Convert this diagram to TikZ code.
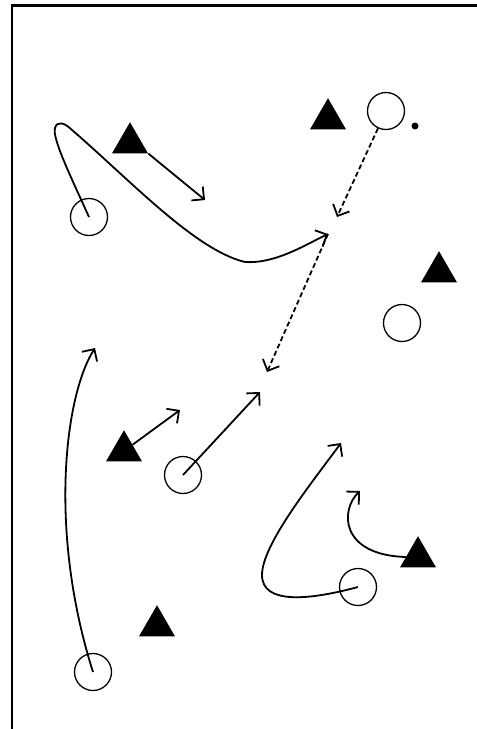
\documentclass[tikz,border=0pt]{standalone}
\usepackage{tikz}
\usetikzlibrary{shapes.geometric,arrows.meta}

\begin{document}
\begin{tikzpicture}[x=1pt,y=-1pt,
        atacante/.style={draw, circle, line width=1.3pt, minimum size=37pt, inner sep=0pt},
        defensor/.style={regular polygon, regular polygon sides=3, fill=black, minimum size=41.6pt, inner sep=0pt},
        bola/.style={circle, fill=black, minimum size=7pt, inner sep=0pt},
        corrida/.style={line width=1.8pt, -{Straight Barb[length=9pt,width=18pt]}},
        passe/.style={corrida, dash pattern=on 5pt off 3pt}]
        \useasboundingbox (0,0) rectangle (477,729);

        % Campo
        \draw[line width=2.6pt] (12,729) -- (12,5.3) -- (477,5.3);

        % Atacantes
        \node[atacante] (a1) at (89,217) {};
        \node[atacante] (a2) at (386,111) {};
        \node[atacante] (a3) at (402,323) {};
        \node[atacante] (a4) at (183,475) {};
        \node[atacante] (a5) at (358,587) {};
        \node[atacante] (a6) at (93,672) {};

        % Defensores
        \node[defensor] (d1) at (130,143) {};
        \node[defensor] (d2) at (328,119) {};
        \node[defensor] (d3) at (439,272) {};
        \node[defensor] (d4) at (124,451) {};
        \node[defensor] (d5) at (418,557) {};
        \node[defensor] (d6) at (157,626) {};

        % Bola
        \node[bola] (b) at (415,126) {};

        % Pontos de chegada
        \coordinate (c1) at (205,200);
        \coordinate (p1) at (328,234);
        \coordinate (p2) at (337,217);
        \coordinate (p3) at (267,372);
        \coordinate (c2) at (95,348);
        \coordinate (c3) at (180,410);
        \coordinate (c4) at (260,392);
        \coordinate (c5) at (341,443);
        \coordinate (c6) at (360,491);

        % Corridas
        \draw[corrida] (a1.center) .. controls (70,175) and (52,138) .. (55,128)
            .. controls (57,121) and (64,122) .. (72,130)
            .. controls (130,180) and (195,250) .. (245,262)
            .. controls (275,264) and (305,245) .. (p1);
        \draw[corrida] (d1.corner 3) -- (c1);
        \draw[corrida] (a6.center) .. controls (48,530) and (65,395) .. (c2);
        \draw[corrida] (d4) -- (c3);
        \draw[corrida] (a4.center) -- (c4);
        \draw[corrida] (a5.center) .. controls (310,600) and (262,605) .. (262,575)
            .. controls (262,545) and (310,485) .. (c5);
        \draw[corrida] (d5.west) .. controls (340,555) and (340,510) .. (c6);

        % Passes
        \draw[passe] (a2) -- (p2);
        \draw[passe] (p1) -- (p3);
    \end{tikzpicture}
\end{document}
